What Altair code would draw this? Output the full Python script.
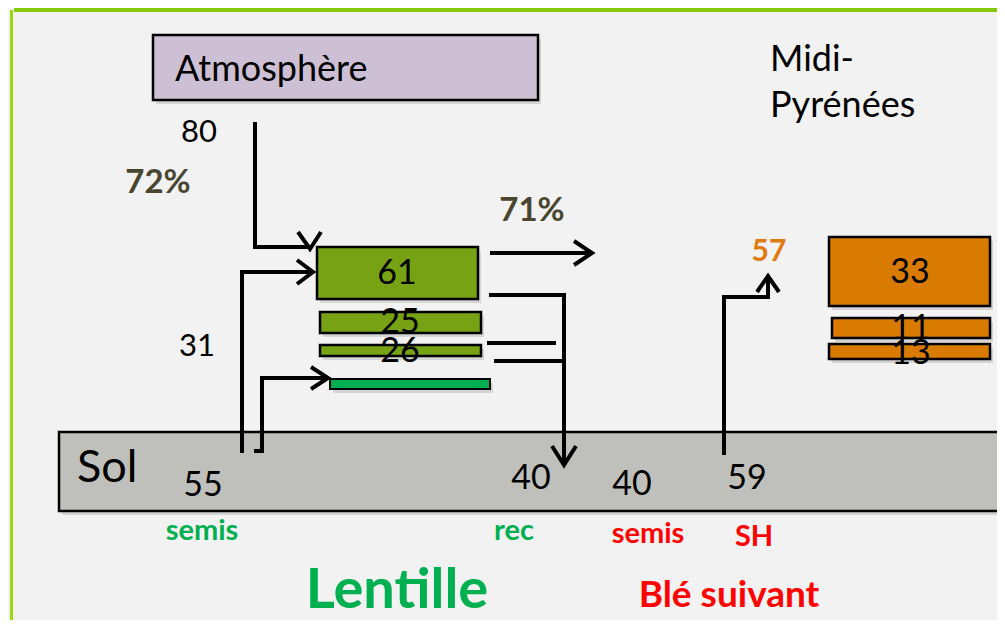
import altair as alt
import pandas as pd

# ---------------- values ----------------
atm_flux = 80            # N2 fixed from atmosphere
atm_pct = "72%"
export_pct = "71%"
root_flux = 31           # soil uptake
lentil_stock = [61, 25, 26]      # lentil pools (top, middle, lower)
wheat_stock = [33, 11, 13]       # following wheat pools
soil_values = [55, 40, 40, 59]   # soil N at stages
wheat_uptake = 57
stage_labels = ["semis", "rec", "semis", "SH"]
stage_colors = ["#00b050", "#00b050", "#ff0000", "#ff0000"]
crop_labels = ["Lentille", "Blé suivant"]
crop_colors = ["#00b050", "#ff0000"]
box_names = ["Atmosphère", "Sol"]
region_label = ["Midi-", "Pyrénées"]

# ---------------- layout (pixel-like diagram units) ----------------
X0, X1 = 8, 997
Y0, Y1 = 8, 620
xs = alt.Scale(domain=[X0, X1], nice=False, zero=False)
ys = alt.Scale(domain=[Y0, Y1], nice=False, zero=False, reverse=True)

GREEN = "#76a214"
ORANGE = "#d97b00"

box_x = [153, 317, 320, 320, 330, 59, 829, 832, 829, 14, 10]
box_x2 = [538, 478, 481, 481, 490, 1010, 990, 990, 990, 1010, 13]
box_y = [35, 247, 312, 345, 379, 432, 237, 318, 344, 7, 10]
box_y2 = [100, 299, 333, 356, 389, 511, 306, 338, 359, 12, 640]
box_fill = ["#cdc0d4", GREEN, GREEN, GREEN, "#00b050", "#bfc0bb",
            ORANGE, ORANGE, ORANGE, "#86c80a", "#9ad60c"]
box_sw = [2.5, 2.5, 2.5, 2.5, 2, 2.5, 2.5, 2.5, 2.5, 0, 0]
box_shadow = [1, 1, 1, 1, 1, 1, 1, 1, 1, 0, 0]
boxes = pd.DataFrame({"x": box_x, "x2": box_x2, "y": box_y, "y2": box_y2,
                      "fill": box_fill, "sw": box_sw, "sh": box_shadow})
shadows = boxes[boxes["sh"] == 1].copy()
shadows["x"] = shadows["x"] + 3
shadows["x2"] = shadows["x2"] + 3
shadows["y"] = shadows["y"] + 4
shadows["y2"] = shadows["y2"] + 4

paths = [
    [(255, 122), (255, 247), (310, 247)],
    [(298, 232), (310, 249), (321, 232)],
    [(242, 453), (242, 272), (313, 272)],
    [(297, 260), (313, 272), (297, 284)],
    [(254, 451), (262, 451), (262, 378), (326, 378)],
    [(311, 367), (328, 378), (311, 389)],
    [(490, 253), (592, 253)],
    [(574, 241), (592, 253), (574, 265)],
    [(489, 295), (564, 295), (564, 463)],
    [(552, 446), (564, 465), (576, 446)],
    [(487, 343), (556, 343)],
    [(494, 361), (563, 361)],
    [(724, 455), (724, 297), (768, 297), (768, 279)],
    [(757, 292), (768, 276), (779, 292)],
]
rows = []
for pid, pts in enumerate(paths):
    for k, (px, py) in enumerate(pts):
        rows.append({"pid": pid, "ord": k, "x": px, "y": py})
lines = pd.DataFrame(rows)

# text tables
normal_txt = pd.DataFrame({
    "t": [str(atm_flux), str(root_flux)] + [str(v) for v in lentil_stock]
         + [str(v) for v in wheat_stock] + [str(v) for v in soil_values],
    "x": [199, 197, 397, 400, 400, 910, 911, 911, 203, 531, 632, 747],
    "y": [133, 347, 274, 323, 352, 273, 329, 354, 486, 479, 485, 479],
    "s": [31, 31, 34, 34, 34, 34, 34, 34, 34, 34, 34, 34],
})
left_txt = pd.DataFrame({
    "t": [box_names[0], box_names[1]] + region_label,
    "x": [175, 77, 770, 770],
    "y": [70, 468, 60, 106],
    "s": [36, 45, 36, 36],
})
bold_txt = pd.DataFrame({
    "t": [atm_pct, export_pct, str(wheat_uptake)] + stage_labels + crop_labels,
    "x": [158, 532, 769, 202, 514, 648, 754, 397, 729],
    "y": [183, 211, 252, 531, 531, 534, 537, 591, 596],
    "s": [33, 33, 30, 29, 29, 29, 29, 56, 37],
    "c": ["#494530", "#494530", "#e07b10"] + stage_colors + crop_colors,
})

FONT = "Lato"

shadow_layer = alt.Chart(shadows).mark_rect(color="#000000", opacity=0.12).encode(
    x=alt.X("x:Q", scale=xs, axis=None), x2="x2:Q",
    y=alt.Y("y:Q", scale=ys, axis=None), y2="y2:Q",
)

rects = alt.Chart(boxes).mark_rect(stroke="black").encode(
    x=alt.X("x:Q", scale=xs, axis=None), x2="x2:Q",
    y=alt.Y("y:Q", scale=ys, axis=None), y2="y2:Q",
    fill=alt.Fill("fill:N", scale=None),
    strokeWidth=alt.StrokeWidth("sw:Q", scale=None),
)

arrows = alt.Chart(lines).mark_line(color="black", strokeWidth=4,
                                     strokeJoin="miter", strokeCap="butt").encode(
    x=alt.X("x:Q", scale=xs, axis=None),
    y=alt.Y("y:Q", scale=ys, axis=None),
    detail="pid:N", order="ord:Q",
)

t_num = alt.Chart(normal_txt).mark_text(font=FONT, color="black", align="center",
                                         baseline="middle").encode(
    x=alt.X("x:Q", scale=xs, axis=None), y=alt.Y("y:Q", scale=ys, axis=None),
    text="t:N", size=alt.Size("s:Q", scale=None),
)
t_left = alt.Chart(left_txt).mark_text(font=FONT, color="black", align="left",
                                        baseline="middle").encode(
    x=alt.X("x:Q", scale=xs, axis=None), y=alt.Y("y:Q", scale=ys, axis=None),
    text="t:N", size=alt.Size("s:Q", scale=None),
)
t_bold = alt.Chart(bold_txt).mark_text(font=FONT, fontWeight="bold", align="center",
                                        baseline="middle").encode(
    x=alt.X("x:Q", scale=xs, axis=None), y=alt.Y("y:Q", scale=ys, axis=None),
    text="t:N", size=alt.Size("s:Q", scale=None),
    color=alt.Color("c:N", scale=None),
)

chart = alt.layer(shadow_layer, rects, arrows, t_num, t_left, t_bold).properties(
    width=X1 - X0, height=Y1 - Y0,
    autosize=alt.AutoSizeParams(type="none"),
    padding=0, background="#f2f2f2",
).configure_view(stroke=None, clip=True)

chart.save("out.html", embed_options={"renderer": "svg", "actions": False})
